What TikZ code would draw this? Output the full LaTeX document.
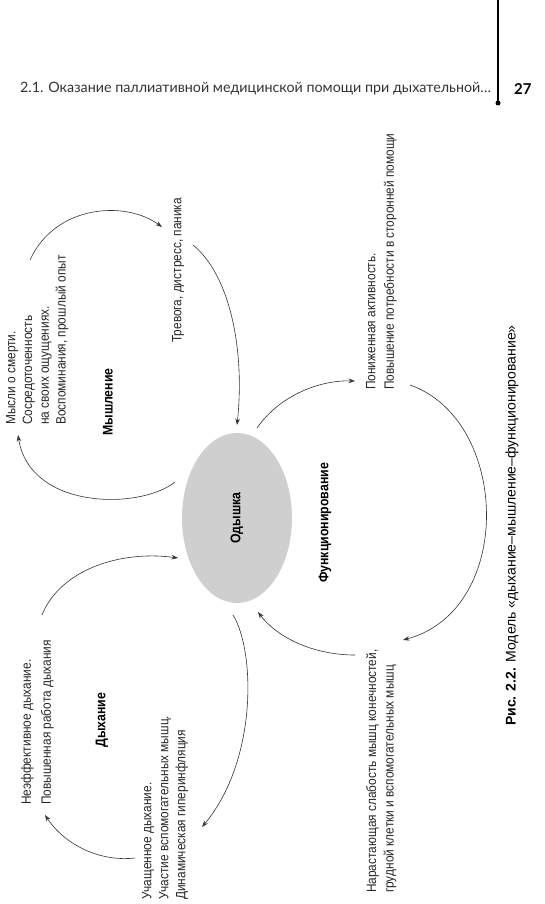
\documentclass[tikz,border=0pt]{standalone}
\usepackage{fontspec}
\setmainfont{Liberation Sans}
\newfontfamily\cond[FakeStretch=0.88]{Liberation Sans}
\newfontfamily\hdr{Lato}
\usetikzlibrary{arrows.meta,shapes.geometric}
\begin{document}
\begin{tikzpicture}[x=1pt,y=-1pt,
  lbl/.style={rotate=90, font=\cond\fontsize{13.5}{17}\selectfont, align=left, inner sep=0pt, text=black!85},
  ttl/.style={rotate=90, font=\cond\bfseries\fontsize{14}{15}\selectfont, inner sep=0pt},
  conn/.style={draw=black!80, line width=0.6pt, -{Stealth[length=6.5pt,width=4.5pt]}}]
\useasboundingbox (0,0) rectangle (544,904);
% header
\node[anchor=west, font=\hdr\fontsize{14.3}{16}\selectfont, inner sep=0pt, text=black!80] (hdr) at (20,89) {2.1. Оказание паллиативной медицинской помощи при дыхательной…};
\node[anchor=west, font=\hdr\bfseries\fontsize{15}{16}\selectfont, inner sep=0pt] (pg) at (514,89) {27};
\coordinate (vtop) at (498,0);
\node[circle, fill, inner sep=0pt, minimum size=5pt] (dot) at (498,103) {};
\draw[line width=1.6pt] (vtop) -- (dot.center);
% centre
\node[ellipse, rotate=90, fill=black!19, minimum width=170pt, minimum height=110pt, inner sep=0pt, font=\cond\bfseries\fontsize{14}{15}\selectfont] (od) at (237,518) {Одышка};
% labels
\node[lbl, anchor=north west, font=\cond\fontsize{13.5}{16.7}\selectfont] (think) at (6,425) {Мысли о смерти.\\Сосредоточенность\\на своих ощущениях.\\Воспоминания, прошлый опыт};
\node[ttl] (mysh) at (108,402) {Мышление};
\node[lbl, anchor=north west] (trev) at (172,343) {Тревога, дистресс, паника};
\node[lbl, anchor=north west, font=\cond\fontsize{13.5}{18.5}\selectfont] (pon) at (366,390) {Пониженная активность.\\Повышение потребности в сторонней помощи};
\node[ttl] (func) at (325,523) {Функционирование};
\node[lbl, anchor=north west, font=\cond\fontsize{13.5}{17.5}\selectfont] (nar) at (366,893) {Нарастающая слабость мышц конечностей,\\грудной клетки и вспомогательных мышц};
\node[lbl, anchor=north west] (uch) at (142,900) {Учащенное дыхание.\\Участие вспомогательных мышц.\\Динамическая гиперинфляция};
\node[ttl] (dyh) at (102,720) {Дыхание};
\node[lbl, anchor=north west, font=\cond\fontsize{13.5}{20}\selectfont] (neef) at (21,805) {Неэффективное дыхание.\\Повышенная работа дыхания};
% caption
\node[rotate=90, anchor=west, inner sep=0pt, font=\fontsize{14}{16}\selectfont] (cap) at (512,726) {\textbf{Рис. 2.2.} Модель «дыхание–мышление–функционирование»};
% connector ends
\coordinate (a1) at (30,260);   \coordinate (a2) at (162,227);
\coordinate (b1) at (193,245);  \coordinate (b2) at (237,425);
\coordinate (c1) at (175,482);  \coordinate (c2) at (18,435);
\coordinate (d1) at (42,615);   \coordinate (d2) at (178,558);
\coordinate (e1) at (135,858);  \coordinate (e2) at (45,815);
\coordinate (f1) at (233,615);  \coordinate (f2) at (202,827);
\coordinate (g1) at (257,428);  \coordinate (g2) at (355,381);
\coordinate (h1) at (410,385);  \coordinate (h2) at (403,640);
\coordinate (i1) at (355,655);  \coordinate (i2) at (258,612);
\draw[conn] (a1) .. controls (55,205) and (125,200) .. (a2);
\draw[conn] (b1) .. controls (230,275) and (245,350) .. (b2);
\draw[conn] (c1) .. controls (140,510) and (30,510) .. (c2);
\draw[conn] (d1) .. controls (60,570) and (120,550) .. (d2);
\draw[conn] (e1) .. controls (100,862) and (65,845) .. (e2);
\draw[conn] (f1) .. controls (255,650) and (258,760) .. (f2);
\draw[conn] (g1) .. controls (280,395) and (320,380) .. (g2);
\draw[conn] (h1) .. controls (510,420) and (515,610) .. (h2);
\draw[conn] (i1) .. controls (310,655) and (275,635) .. (i2);
\end{tikzpicture}
\end{document}
